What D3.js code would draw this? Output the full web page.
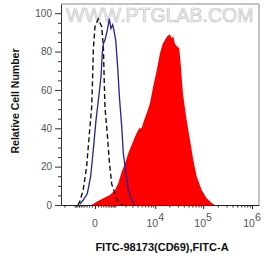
<!DOCTYPE html>
<html>
<head>
<meta charset="utf-8">
<script src="https://cdn.jsdelivr.net/npm/d3@7"></script>
<style>
  body { margin: 0; background: #fff; }
  svg { display: block; font-family: "Liberation Sans", Arial, sans-serif; }
</style>
</head>
<body>
<svg id="chart" width="265" height="260"></svg>
<script>
// isotype control (black dashed)
const ctrlX = [-760, -640, -460, -300, -190, -105, -80, -50, 0, 105, 230, 300, 340, 375, 490, 600, 745, 975, 1220, 1700];
const ctrlY = [0, 2, 8, 20, 37, 51, 63, 81, 93, 97, 93, 83, 65, 51, 37, 23, 11, 6, 2, 0];

// unstained (blue line)
const unstX = [-640, -460, -270, -140, -50, 30, 110, 205, 255, 300, 375, 490, 600, 700, 810, 900, 1030, 1190, 1350, 1570, 1740, 2060, 2360, 2880, 3470];
const unstY = [0.5, 2.6, 6, 15, 29, 44, 55, 67, 79, 84, 86, 91, 97, 92, 94, 91, 86, 72, 56, 41, 27, 16.5, 8, 2.6, 0];

// CD69 stained (red filled)
const cd69X = [-105, 50, 300, 640, 975, 1240, 1570, 1935, 2360, 2880, 3470, 3940, 4390, 4980, 5630, 6470, 7660, 9050, 10700, 12600, 14400, 16100, 18000, 20600, 22300, 24100, 26200, 29300, 32200, 34900, 38400, 45900, 53600, 62800, 73800, 93400, 118000, 150000, 175000];
const cd69Y = [0, 1.7, 3.5, 5.2, 7.8, 11.3, 17.4, 21.7, 27, 31.3, 35.6, 38.2, 40, 40, 44, 47.8, 53, 62, 70, 79, 84, 86, 88, 89, 87, 88, 84, 82.6, 81.7, 72, 58, 44, 34, 23.5, 14.8, 7.8, 3.5, 1, 0];

// axis ticks
const yTicks = [0, 20, 40, 60, 80, 100];
const xMajor = [0, 1e4, 1e5, 1e6];
const xLabels = [["0", ""], ["10", "4"], ["10", "5"], ["10", "6"]];

const pLeft = 61, pRight = 259, pTop = 4, pBottom = 205;

const svg = d3.select("#chart");

const x = d3.scaleSymlog()
    .constant(625)
    .domain([-2460, 1.39e6])
    .range([pLeft, pRight]);

const y = d3.scaleLinear()
    .domain([0, 104.8])
    .range([pBottom, pTop]);

// minor ticks for x (biex style)
let xMinor = [];
for (let k = 1; k <= 9; k++) { xMinor.push(-k * 100, k * 100); }
xMinor.push(-1000, -2000);
for (let k = 1; k <= 9; k++) { xMinor.push(k * 1000); }
for (let k = 2; k <= 9; k++) { xMinor.push(k * 1e4, k * 1e5); }

let yMinor = d3.range(0, 101, 5).filter(v => v % 20 !== 0);

// watermark
svg.append("text")
    .attr("x", 66).attr("y", 22)
    .attr("font-size", 19.5)
    .attr("fill", "#f4f4f4")
    .attr("stroke", "#c4c4c4")
    .attr("stroke-width", 0.7)
    .text("WWW.PTGLAB.COM");

// red filled histogram
const pts = cd69X.map((v, i) => [v, cd69Y[i]]);
svg.append("path")
    .datum(pts)
    .attr("fill", "#ff0000")
    .attr("d", d3.area().x(d => x(d[0])).y0(y(0)).y1(d => y(d[1])));

// black dashed control
svg.append("path")
    .datum(ctrlX.map((v, i) => [v, ctrlY[i]]))
    .attr("fill", "none")
    .attr("stroke", "#111")
    .attr("stroke-width", 1.4)
    .attr("stroke-dasharray", "5,3")
    .attr("d", d3.line().x(d => x(d[0])).y(d => y(d[1])));

// blue line
svg.append("path")
    .datum(unstX.map((v, i) => [v, unstY[i]]))
    .attr("fill", "none")
    .attr("stroke", "#22229a")
    .attr("stroke-width", 1.3)
    .attr("d", d3.line().x(d => x(d[0])).y(d => y(d[1])));

// frame (top / right)
svg.append("path")
    .attr("d", `M${pLeft},${pTop}H${pRight}V${pBottom}`)
    .attr("fill", "none")
    .attr("stroke", "#888")
    .attr("stroke-width", 1);

// y axis
const gy = svg.append("g")
    .attr("transform", `translate(${pLeft},0)`)
    .call(d3.axisLeft(y).tickValues(yTicks).tickSize(6).tickPadding(3).tickSizeOuter(0));
gy.select(".domain").attr("stroke", "#333");
gy.selectAll(".tick line").attr("stroke", "#333");
gy.selectAll(".tick text").attr("font-size", 10).attr("fill", "#555")
    .attr("font-family", "Liberation Sans, Arial, sans-serif");

svg.append("g")
    .attr("transform", `translate(${pLeft},0)`)
    .call(d3.axisLeft(y).tickValues(yMinor).tickSize(3).tickFormat(""))
    .call(g => g.select(".domain").remove())
    .selectAll(".tick line").attr("stroke", "#333");

// x axis
const gx = svg.append("g")
    .attr("transform", `translate(0,${pBottom})`)
    .call(d3.axisBottom(x).tickValues(xMajor).tickSize(4).tickFormat("").tickSizeOuter(0));
gx.select(".domain").attr("stroke", "#222");
gx.selectAll(".tick line").attr("stroke", "#222");

svg.append("g")
    .attr("transform", `translate(0,${pBottom})`)
    .call(d3.axisBottom(x).tickValues(xMinor).tickSize(2.5).tickFormat(""))
    .call(g => g.select(".domain").remove())
    .selectAll(".tick line").attr("stroke", "#222");

// x tick labels with exponent
xMajor.forEach((v, i) => {
  const t = svg.append("text")
      .attr("x", x(v))
      .attr("y", 227)
      .attr("text-anchor", "middle")
      .attr("font-size", 10.5)
      .attr("fill", "#555");
  t.append("tspan").text(xLabels[i][0]);
  if (xLabels[i][1]) {
    t.append("tspan").attr("dy", -6).attr("font-size", 10.5).text(xLabels[i][1]);
  }
});

// axis titles
svg.append("text")
    .attr("x", 162)
    .attr("y", 251)
    .attr("text-anchor", "middle")
    .attr("font-size", 11)
    .attr("font-weight", "bold")
    .attr("fill", "#111")
    .text("FITC-98173(CD69),FITC-A");

svg.append("text")
    .attr("transform", "translate(19,101) rotate(-90)")
    .attr("text-anchor", "middle")
    .attr("font-size", 10.5)
    .attr("font-weight", "bold")
    .attr("fill", "#111")
    .text("Relative Cell Number");
</script>
</body>
</html>
